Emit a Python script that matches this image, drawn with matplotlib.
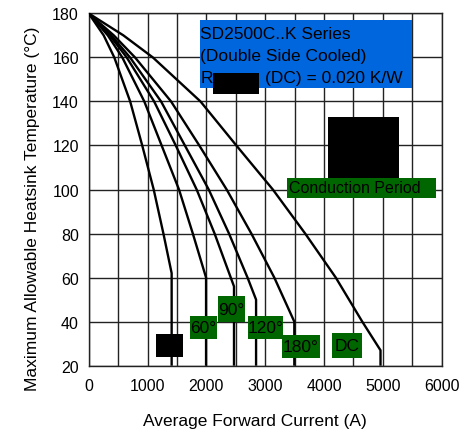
import numpy as np
import matplotlib.pyplot as plt
from matplotlib.patches import Rectangle

plt.rcParams['font.family'] = ['Liberation Sans', 'DejaVu Sans']

# 曲线数据 (电流 A, 散热器温度 °C)
i_30 = [0, 255, 435, 705, 910, 1105, 1270, 1410, 1410]
t_30 = [180, 170, 160, 140, 120, 100, 80, 62, 20]
i_60 = [0, 325, 571, 945, 1240, 1535, 1770, 1995, 1995]
t_60 = [180, 170, 160, 140, 120, 100, 80, 60, 20]
i_90 = [0, 358, 646, 1112, 1480, 1835, 2140, 2415, 2470, 2470]
t_90 = [180, 170, 160, 140, 120, 100, 80, 60, 56, 20]
i_120 = [0, 385, 702, 1230, 1635, 2040, 2385, 2700, 2845, 2845]
t_120 = [180, 170, 160, 140, 120, 100, 80, 60, 50, 20]
i_180 = [0, 427, 787, 1400, 1880, 2345, 2765, 3155, 3495, 3495]
t_180 = [180, 170, 160, 140, 120, 100, 80, 60, 40, 20]
i_dc = [0, 590, 1090, 1900, 2510, 3130, 3680, 4200, 4650, 4960, 4960]
t_dc = [180, 170, 160, 140, 120, 100, 80, 60, 40, 27, 20]

curves = [(i_30, t_30), (i_60, t_60), (i_90, t_90),
          (i_120, t_120), (i_180, t_180), (i_dc, t_dc)]

x_ticks = [0, 1000, 2000, 3000, 4000, 5000, 6000]
y_ticks = [20, 40, 60, 80, 100, 120, 140, 160, 180]

fig = plt.figure(figsize=(4.68, 4.35), dpi=100)
ax = fig.add_axes([0.1895, 0.157, 0.7543, 0.81])

for i, t in curves:
    ax.plot(i, t, color='black', lw=1.7, zorder=3,
            solid_joinstyle='round', solid_capstyle='butt')

ax.set_xlim(0, 6000)
ax.set_ylim(20, 180)
ax.set_xticks(x_ticks)
ax.set_xticks(np.arange(500, 6000, 1000), minor=True)
ax.set_yticks(y_ticks)
ax.grid(True, which='both', color='#222222', lw=1.0, zorder=1)
ax.tick_params(which='both', length=0)
ax.tick_params(axis='x', pad=9, labelsize=11.5)
ax.tick_params(axis='y', pad=7, labelsize=11.5)
for s in ax.spines.values():
    s.set_color('#222222')
    s.set_linewidth(1.0)

ax.set_xlabel('Average Forward Current (A)', fontsize=12.5, va='center')
ax.xaxis.set_label_coords(0.472, -0.156)
ax.set_ylabel('Maximum Allowable Heatsink Temperature (°C)', fontsize=12.5, va='center')
ax.yaxis.set_label_coords(-0.158, 0.4475)

# 标注框
def box(x0, x1, y0, y1, color, text='', size=11):
    ax.add_patch(Rectangle((x0, y0), x1 - x0, y1 - y0, facecolor=color,
                           edgecolor='none', zorder=5))
    if text:
        ax.text((x0 + x1) / 2, (y0 + y1) / 2, text, ha='center', va='center',
                fontsize=size, color='black', zorder=6)

box(1893, 5490, 146.05, 177.1, '#0066dd')
ax.text(1900, 171, 'SD2500C..K Series', fontsize=12.5, va='center', zorder=6)
ax.text(1900, 161, '(Double Side Cooled)', fontsize=12.5, va='center', zorder=6)
ax.text(1900, 151, 'R', fontsize=12.5, va='center', zorder=6)
ax.text(3000, 151, '(DC) = 0.020 K/W', fontsize=12.5, va='center', zorder=6)
box(2113, 2895, 143.6, 152.9, 'black')

box(4073, 5275, 105.1, 133, 'black')
box(3366, 5904, 96.05, 105.45, '#006600')
ax.text(3400, 100.75, 'Conduction Period', fontsize=11.5, va='center', zorder=6)

box(1144, 1603, 24.1, 34.2, 'black')
box(1722, 2181, 32.3, 42.4, '#006600', '60°', 12.5)
box(2198, 2657, 39.8, 51.5, '#006600', '90°', 12.5)
box(2703, 3308, 32.3, 42.4, '#006600', '120°', 12.5)
box(3286, 3932, 23.5, 33.9, '#006600', '180°', 12.5)
box(4136, 4641, 23.5, 34.7, '#006600', 'DC', 12.5)

fig.savefig('out.png', dpi=100)
